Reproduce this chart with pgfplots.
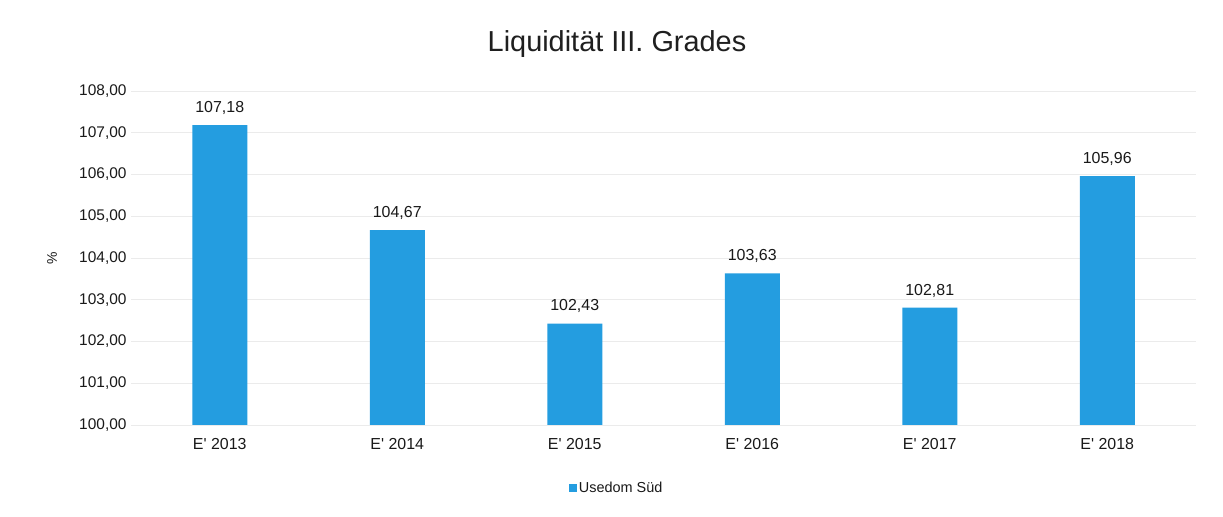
\documentclass[border=0pt]{standalone}
\usepackage{fontspec}
\setmainfont{Liberation Sans}
\usepackage{pgfplots}
\pgfplotsset{compat=1.18}
\definecolor{barblue}{RGB}{36,157,224}
\begin{document}
\begin{tikzpicture}[x=1bp,y=1bp]
\useasboundingbox[fill=white] (0,0) rectangle (1223,517);
\node[font=\fontsize{29}{33}\selectfont, text=black!88] at (617,473) {Liquidität III. Grades};
\begin{axis}[
  at={(131bp,92bp)}, anchor=south west,
  width=1065bp, height=334bp, scale only axis,
  xmin=-0.5, xmax=5.5, ymin=100, ymax=108,
  ytick distance=1,
  xtick=data,
  xticklabels={E\textquotesingle{} 2013,E\textquotesingle{} 2014,E\textquotesingle{} 2015,E\textquotesingle{} 2016,E\textquotesingle{} 2017,E\textquotesingle{} 2018},
  ymajorgrids, grid style={draw=black!8, line width=0.8pt},
  axis line style={draw=none},
  x axis line style={draw=black!10},
  tick style={draw=none},
  ylabel={\%},
  ylabel style={at={(axis description cs:-0.074,0.5)}, anchor=center, font=\fontsize{14}{16}\selectfont, text=black!90},
  tick label style={text=black!90},
  yticklabel style={font=\fontsize{15.5}{18}\selectfont, xshift=-1bp},
  xticklabel style={font=\fontsize{16}{18}\selectfont, yshift=-6bp},
  /pgf/number format/.cd, assume math mode=true, use comma, fixed, fixed zerofill, precision=2, 1000 sep={},
  /pgfplots/.cd,
  ybar, bar width=55bp,
  nodes near coords,
  nodes near coords style={font=\fontsize{16}{18}\selectfont, text=black!90, yshift=7bp, /pgf/number format/.cd, assume math mode=true, use comma, fixed, fixed zerofill, precision=2},
  legend style={at={(axis description cs:0.456,-0.189)}, anchor=center, draw=none, font=\fontsize{14.5}{17}\selectfont, text=black!90},
  legend image code/.code={\fill[barblue] (0bp,-4bp) rectangle (8bp,4bp);},
]
\addplot[fill=barblue, draw=none] coordinates {(0,107.18) (1,104.67) (2,102.43) (3,103.63) (4,102.81) (5,105.96)};
\addlegendentry{Usedom Süd}
\end{axis}
\end{tikzpicture}
\end{document}
